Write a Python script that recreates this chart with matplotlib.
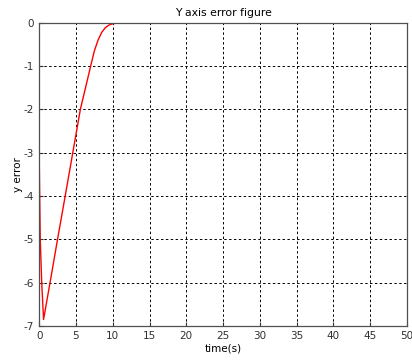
import matplotlib.pyplot as plt

plt.rcParams['axes.unicode_minus'] = False

# y error over time
time_s = [0, 0.15, 0.35, 0.6, 1.48, 2.5, 3.54, 4.57, 5.6, 6.3, 7.0, 7.5, 8.0, 8.5, 9.0, 9.5, 10.0, 10.6, 11.3, 20, 30, 40, 50]
y_err = [-3.0, -5.0, -6.0, -6.85, -6.0, -5.0, -4.0, -3.0, -2.0, -1.5, -1.0, -0.65, -0.4, -0.22, -0.11, -0.05, -0.02, -0.005, 0, 0, 0, 0, 0]

x_ticks = list(range(0, 51, 5))
y_ticks = list(range(-7, 1))

fig = plt.figure(figsize=(4.12, 3.63), dpi=100)
ax = fig.add_axes([0.095, 0.102, 0.893, 0.835])

ax.plot(time_s, y_err, color='red', linewidth=1.0)

ax.set_xlim(0, 50)
ax.set_ylim(-7, 0)
ax.set_xticks(x_ticks)
ax.set_yticks(y_ticks)
ax.grid(True, color='black', linestyle=(0, (2.5, 2.5)), linewidth=0.7)
ax.tick_params(direction='in', length=3, labelsize=7.5, colors='#303030')
for s in ax.spines.values():
    s.set_color('#505050')
    s.set_linewidth(0.9)

ax.set_title('Y axis error figure', fontsize=7.8, pad=5)
ax.set_xlabel('time(s)', fontsize=7.5, labelpad=2)
ax.set_ylabel('y error', fontsize=7.5, labelpad=1)

plt.savefig('out.png', dpi=100)
